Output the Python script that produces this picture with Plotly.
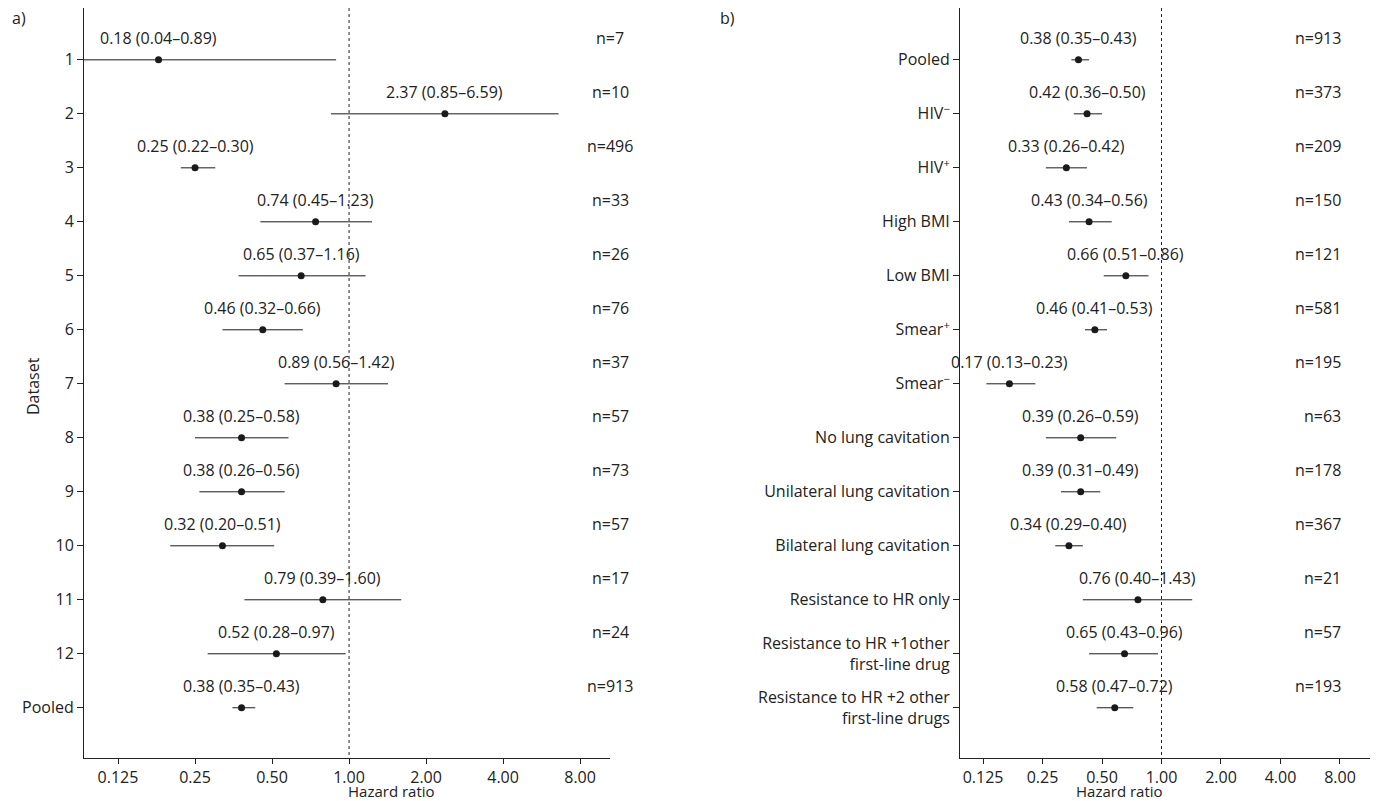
import math
import plotly.graph_objects as go

a_labels = ["1","2","3","4","5","6","7","8","9","10","11","12","Pooled"]
a_est = [0.18,2.37,0.25,0.74,0.65,0.46,0.89,0.38,0.38,0.32,0.79,0.52,0.38]
a_lo = [0.04,0.85,0.22,0.45,0.37,0.32,0.56,0.25,0.26,0.20,0.39,0.28,0.35]
a_hi = [0.89,6.59,0.30,1.23,1.16,0.66,1.42,0.58,0.56,0.51,1.60,0.97,0.43]
a_n = [7,10,496,33,26,76,37,57,73,57,17,24,913]

b_labels = ["Pooled","HIV<sup>−</sup>","HIV<sup>+</sup>","High BMI","Low BMI","Smear<sup>+</sup>","Smear<sup>−</sup>",
            "No lung cavitation","Unilateral lung cavitation","Bilateral lung cavitation",
            "Resistance to HR only","Resistance to HR +1other<br>first-line drug","Resistance to HR +2 other<br>first-line drugs"]
b_est = [0.38,0.42,0.33,0.43,0.66,0.46,0.17,0.39,0.39,0.34,0.76,0.65,0.58]
b_lo = [0.35,0.36,0.26,0.34,0.51,0.41,0.13,0.26,0.31,0.29,0.40,0.43,0.47]
b_hi = [0.43,0.50,0.42,0.56,0.86,0.53,0.23,0.59,0.49,0.40,1.43,0.96,0.72]
b_n = [913,373,209,150,121,581,195,63,178,367,21,57,193]

ticks = [0.125,0.25,0.5,1,2,4,8]
ticktext = ["0.125","0.25","0.50","1.00","2.00","4.00","8.00"]
FONT = "Open Sans, Lato, sans-serif"
TXT = dict(size=16, family=FONT, color="#222")
fig = go.Figure()
OFF = 8  # page body margin
W = 1377
H = 793
T, B = 0, 43
PH = H - T - B
rows = list(range(1, 14))
YR = [13.93, 0.04]

def px(x):
    return (x - OFF) / W

def py(y):
    return 1 - (y - OFF - T) / PH

def panel(est, lo, hi, n, xa, ya, nx):
    fig.add_trace(go.Scatter(
        x=est, y=rows, mode="markers", xaxis=xa, yaxis=ya,
        marker=dict(color="#1a1a1a", size=7),
        error_x=dict(type="data", symmetric=False,
                     array=[h - e for h, e in zip(hi, est)],
                     arrayminus=[e - l for e, l in zip(est, lo)],
                     width=0, color="#1a1a1a", thickness=1),
        showlegend=False))
    for i in range(13):
        fig.add_annotation(x=math.log10(est[i]), y=rows[i], xref=xa, yref=ya,
                           text=f"{est[i]:.2f} ({lo[i]:.2f}–{hi[i]:.2f})", showarrow=False,
                           yshift=22, font=TXT)
        fig.add_annotation(x=nx, y=rows[i], xref="paper", yref=ya,
                           text=f"n={n[i]}", showarrow=False, yshift=22, font=TXT)
    fig.add_shape(type="line", x0=1, x1=1, y0=YR[1], y1=YR[0], xref=xa, yref=ya,
                  line=dict(color="#222", width=1, dash="dot"))

panel(a_est, a_lo, a_hi, a_n, "x", "y", px(610))
panel(b_est, b_lo, b_hi, b_n, "x2", "y2", px(1343))

xcommon = dict(type="log", tickvals=ticks, ticktext=ticktext, showline=True, linecolor="#222",
               ticks="outside", ticklen=5, tickcolor="#222", showgrid=False, zeroline=False,
               tickfont=TXT, automargin=False)
ycommon = dict(range=YR, tickvals=rows, showline=True, linecolor="#222",
               ticks="outside", ticklen=6, tickcolor="#222", showgrid=False, zeroline=False,
               tickfont=TXT, automargin=False)

fig.update_layout(
    width=W, height=H, paper_bgcolor="white", plot_bgcolor="white",
    margin=dict(l=0, r=0, t=T, b=B),
    xaxis=dict(**xcommon, domain=[px(84), px(610)], range=[-1.036, 1.020], anchor="y"),
    yaxis=dict(**ycommon, domain=[0, 1], ticktext=a_labels, anchor="x"),
    xaxis2=dict(**xcommon, domain=[px(960), px(1370)], range=[-1.0196, 1.055], anchor="y2"),
    yaxis2=dict(**ycommon, domain=[0, 1], ticktext=b_labels, anchor="x2"),
)
for xx, t in [(346, "Hazard ratio"), (1165, "Hazard ratio")]:
    fig.add_annotation(x=px(xx), y=py(791), xref="paper", yref="paper", text=t,
                       showarrow=False, font=dict(size=15, family=FONT, color="#222"),
                       yanchor="middle")
fig.add_annotation(x=px(20), y=py(386), xref="paper", yref="paper", text="Dataset",
                   showarrow=False, textangle=-90, font=TXT)
fig.add_annotation(x=px(10), y=py(18), xref="paper", yref="paper", text="a)", showarrow=False,
                   font=TXT, xanchor="left", yanchor="middle")
fig.add_annotation(x=px(718), y=py(18), xref="paper", yref="paper", text="b)", showarrow=False,
                   font=TXT, xanchor="left", yanchor="middle")
fig.write_html("out.html")
